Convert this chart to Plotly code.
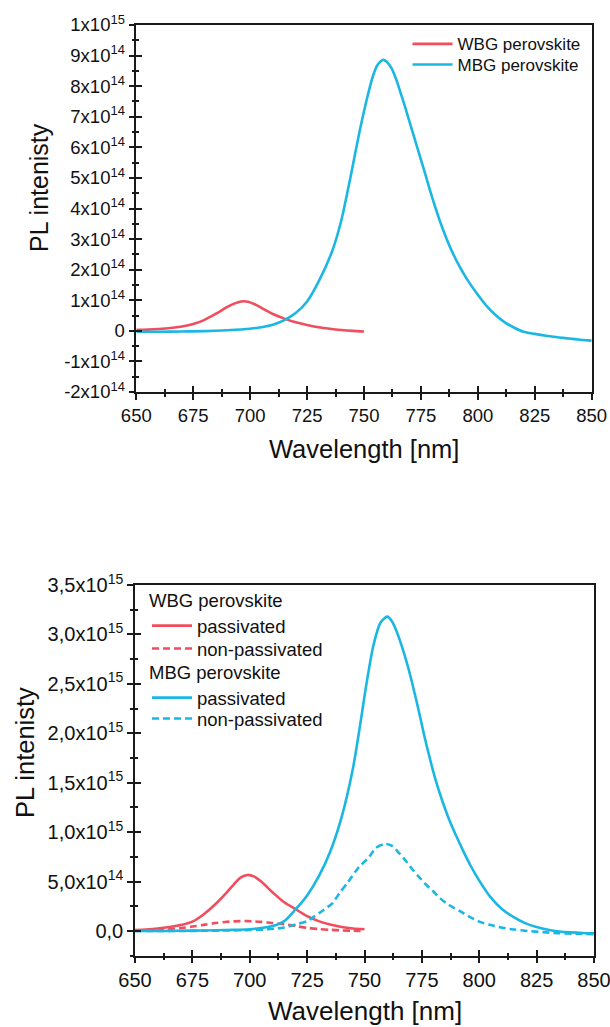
import plotly.graph_objects as go

# ---------------- data (PL intensity in units of 1e14) ----------------
wl_wbg = [650, 655, 660, 665, 670, 675, 680, 685, 690, 693, 696, 699, 702, 705,
          710, 715, 720, 725, 730, 735, 740, 745, 750]
top_wbg = [0.03, 0.04, 0.06, 0.09, 0.14, 0.22, 0.36, 0.56, 0.78, 0.89, 0.96, 0.95,
           0.87, 0.75, 0.55, 0.40, 0.28, 0.19, 0.12, 0.07, 0.03, 0.0, -0.02]

wl_mbg_top = [650, 660, 670, 680, 690, 700, 705, 710, 715, 720, 725, 730, 736, 740,
              744, 748, 751, 754, 756, 758.5, 760, 762, 764, 766, 768, 772, 776, 780,
              784, 788, 792, 796, 800, 804, 808, 812, 816, 820, 825, 830, 835, 840,
              845, 850]
top_mbg = [-0.03, -0.03, -0.02, -0.01, 0.02, 0.07, 0.12, 0.2, 0.35, 0.58, 0.96, 1.6,
           2.6, 3.6, 5.0, 6.5, 7.5, 8.35, 8.7, 8.86, 8.8, 8.6, 8.25, 7.8, 7.33, 6.34,
           5.35, 4.35, 3.45, 2.7, 2.1, 1.6, 1.18, 0.8, 0.5, 0.27, 0.1, -0.03, -0.1,
           -0.16, -0.21, -0.25, -0.29, -0.32]

bot_wbg_pass = [0.1, 0.15, 0.25, 0.4, 0.6, 0.95, 1.7, 2.7, 3.9, 4.7, 5.4, 5.67, 5.5,
                5.0, 3.9, 2.9, 2.2, 1.5, 1.0, 0.65, 0.4, 0.25, 0.17]
bot_wbg_non = [0.03, 0.07, 0.12, 0.2, 0.3, 0.45, 0.62, 0.8, 0.93, 0.97, 1.0, 1.0,
               0.97, 0.92, 0.8, 0.68, 0.5, 0.32, 0.2, 0.12, 0.06, 0.02, 0.0]

wl_mbg_pass = [650, 660, 670, 680, 690, 700, 705, 710, 715, 720, 725, 730, 735, 740,
               745, 748, 751, 754, 757, 760, 762, 764, 766, 768, 770, 772, 774, 776,
               778, 780, 782, 784, 787, 790, 793, 796, 800, 805, 810, 815, 820, 825,
               830, 835, 840, 845, 850]
bot_mbg_pass = [0.0, 0.0, 0.02, 0.05, 0.1, 0.17, 0.3, 0.5, 1.0, 2.2, 3.6, 5.5, 8.0,
                11.5, 16.5, 20.7, 25.2, 29.0, 31.2, 31.8, 31.3, 30.3, 29.0, 27.5,
                25.8, 23.9, 21.9, 19.8, 17.9, 16.1, 14.5, 13.1, 11.2, 9.6, 8.1, 6.7,
                5.1, 3.4, 2.2, 1.4, 0.8, 0.4, 0.12, -0.05, -0.14, -0.2, -0.23]

wl_mbg_non = [650, 660, 670, 680, 690, 700, 708, 715, 720, 725, 728, 732, 736, 739,
              743, 747, 752, 755, 759, 762, 765, 768, 771, 774, 777, 780, 783, 787,
              792, 796, 800, 805, 809, 815, 821, 828, 835, 842, 850]
bot_mbg_non = [0.0, 0.0, 0.0, 0.02, 0.05, 0.1, 0.17, 0.35, 0.65, 1.0, 1.45, 2.1,
               2.8, 3.8, 5.0, 6.3, 7.5, 8.4, 8.8, 8.6, 7.9, 7.1, 6.2, 5.4, 4.65, 4.0,
               3.3, 2.6, 1.95, 1.4, 0.95, 0.6, 0.37, 0.15, 0.0, -0.12, -0.23, -0.28,
               -0.33]

x_tickvals = [650, 675, 700, 725, 750, 775, 800, 825, 850]
x_ticktext = ["650", "675", "700", "725", "750", "775", "800", "825", "850"]

top_y_tickvals = [-2e14, -1e14, 0, 1e14, 2e14, 3e14, 4e14, 5e14, 6e14, 7e14, 8e14,
                  9e14, 1e15]
top_y_ticktext = ["-2x10<sup>14</sup>", "-1x10<sup>14</sup>", "0",
                  "1x10<sup>14</sup>", "2x10<sup>14</sup>", "3x10<sup>14</sup>",
                  "4x10<sup>14</sup>", "5x10<sup>14</sup>", "6x10<sup>14</sup>",
                  "7x10<sup>14</sup>", "8x10<sup>14</sup>", "9x10<sup>14</sup>",
                  "1x10<sup>15</sup>"]
bot_y_tickvals = [0, 5e14, 1e15, 1.5e15, 2e15, 2.5e15, 3e15, 3.5e15]
bot_y_ticktext = ["0,0", "5,0x10<sup>14</sup>", "1,0x10<sup>15</sup>",
                  "1,5x10<sup>15</sup>", "2,0x10<sup>15</sup>", "2,5x10<sup>15</sup>",
                  "3,0x10<sup>15</sup>", "3,5x10<sup>15</sup>"]

SCALE = 1e14
RED = "#F04E5E"
BLUE = "#1BB7E3"
FONT = "Liberation Sans, Arial, sans-serif"
W, H = 610, 1027


def sc(v):
    return [a * SCALE for a in v]


LINE = dict(width=2.6, shape="spline", smoothing=0.8)

fig = go.Figure()
# top chart
fig.add_trace(go.Scatter(x=wl_wbg, y=sc(top_wbg), mode="lines", name="WBG perovskite",
                         line=dict(color=RED, **LINE),
                         xaxis="x", yaxis="y", legend="legend"))
fig.add_trace(go.Scatter(x=wl_mbg_top, y=sc(top_mbg), mode="lines", name="MBG perovskite",
                         line=dict(color=BLUE, **LINE),
                         xaxis="x", yaxis="y", legend="legend2"))
# bottom chart
fig.add_trace(go.Scatter(x=wl_wbg, y=sc(bot_wbg_pass), mode="lines", name="passivated",
                         line=dict(color=RED, **LINE),
                         xaxis="x2", yaxis="y2", legend="legend3"))
fig.add_trace(go.Scatter(x=wl_wbg, y=sc(bot_wbg_non), mode="lines", name="non-passivated",
                         line=dict(color=RED, dash="7px,4px", **LINE),
                         xaxis="x2", yaxis="y2", legend="legend4"))
fig.add_trace(go.Scatter(x=wl_mbg_pass, y=sc(bot_mbg_pass), mode="lines", name="passivated",
                         line=dict(color=BLUE, **LINE),
                         xaxis="x2", yaxis="y2", legend="legend5"))
fig.add_trace(go.Scatter(x=wl_mbg_non, y=sc(bot_mbg_non), mode="lines", name="non-passivated",
                         line=dict(color=BLUE, dash="7px,4px", **LINE),
                         xaxis="x2", yaxis="y2", legend="legend6"))
# empty traces on overlay axes (for crossing inside ticks)
fig.add_trace(go.Scatter(x=[], y=[], xaxis="x3", yaxis="y3", showlegend=False))
fig.add_trace(go.Scatter(x=[], y=[], xaxis="x4", yaxis="y4", showlegend=False))

AX = "#1a1a1a"
top_xd = [136.3 / W, 591.7 / W]
top_yd = [1 - 392 / H, 1 - 25 / H]
bot_xd = [135 / W, 594 / W]
bot_yd = [1 - 955.7 / H, 1 - 585 / H]


def xax(domain, anchor, fs, main=True, overlay=None):
    d = dict(domain=domain, anchor=anchor, range=[650, 850], tickmode="array",
             tickvals=x_tickvals, showgrid=False, zeroline=False,
             automargin=False, ticklabeloverflow="allow",
             linecolor=AX, linewidth=1.5, tickcolor=AX, tickwidth=1.5)
    if main:
        d.update(showline=True, mirror=True, ticks="outside", ticklen=6,
                 ticktext=x_ticktext, tickfont=dict(family=FONT, size=fs, color="#111"),
                 minor=dict(ticks="outside", ticklen=3, dtick=12.5, tick0=650,
                            tickcolor=AX, tickwidth=1.5, showgrid=False))
    else:
        d.update(showline=False, ticks="inside", ticklen=6, showticklabels=False,
                 overlaying=overlay,
                 minor=dict(ticks="inside", ticklen=3, dtick=12.5, tick0=650,
                            tickcolor=AX, tickwidth=1.5, showgrid=False))
    return d


def yax(domain, anchor, rng, tv, tt, mdt, fs, main=True, overlay=None):
    d = dict(domain=domain, anchor=anchor, range=rng, tickmode="array",
             tickvals=tv, showgrid=False, zeroline=False,
             automargin=False, ticklabeloverflow="allow",
             linecolor=AX, linewidth=1.5, tickcolor=AX, tickwidth=1.5)
    if main:
        d.update(showline=True, mirror=True, ticks="outside", ticklen=6,
                 ticktext=tt, tickfont=dict(family=FONT, size=fs, color="#111"),
                 minor=dict(ticks="outside", ticklen=3, dtick=mdt, tick0=0,
                            tickcolor=AX, tickwidth=1.5, showgrid=False))
    else:
        d.update(showline=False, ticks="inside", ticklen=6, showticklabels=False,
                 overlaying=overlay,
                 minor=dict(ticks="inside", ticklen=3, dtick=mdt, tick0=0,
                            tickcolor=AX, tickwidth=1.5, showgrid=False))
    return d


def leg(x_px, top_px, fs, title=None):
    d = dict(x=x_px / W, y=1 - top_px / H, xanchor="left", yanchor="top",
             bgcolor="rgba(0,0,0,0)", font=dict(family=FONT, size=fs, color="#111"),
             itemwidth=40, tracegroupgap=0)
    if title:
        d["title"] = dict(text=title, font=dict(family=FONT, size=fs, color="#111"))
    return d


fig.update_layout(
    width=W, height=H, margin=dict(l=0, r=0, t=0, b=0, autoexpand=False),
    paper_bgcolor="white", plot_bgcolor="white",
    xaxis=xax(top_xd, "y", 18.5),
    yaxis=yax(top_yd, "x", [-2e14, 1e15], top_y_tickvals, top_y_ticktext, 5e13, 18.5),
    xaxis2=xax(bot_xd, "y2", 20),
    yaxis2=yax(bot_yd, "x2", [-2.5e14, 3.5e15], bot_y_tickvals, bot_y_ticktext, 2.5e14, 20),
    xaxis3=xax(top_xd, "y3", 18.5, main=False, overlay="x"),
    yaxis3=yax(top_yd, "x3", [-2e14, 1e15], top_y_tickvals, top_y_ticktext, 5e13, 18.5,
               main=False, overlay="y"),
    xaxis4=xax(bot_xd, "y4", 20, main=False, overlay="x2"),
    yaxis4=yax(bot_yd, "x4", [-2.5e14, 3.5e15], bot_y_tickvals, bot_y_ticktext, 2.5e14, 20,
               main=False, overlay="y2"),
    legend=leg(407.5, 26.3, 17),
    legend2=leg(407.5, 47, 17),
    legend3=leg(147, 583, 18.5, "WBG perovskite"),
    legend4=leg(147, 630, 18.5),
    legend5=leg(147, 655, 18.5, "MBG perovskite"),
    legend6=leg(147, 700, 18.5),
    showlegend=True,
    annotations=[
        dict(text="Wavelength [nm]", x=364 / W, y=1 - 449 / H, xref="paper", yref="paper",
             showarrow=False, xanchor="center", yanchor="middle",
             font=dict(family=FONT, size=25.5, color="#111")),
        dict(text="PL intenisty", x=39 / W, y=1 - 188 / H, xref="paper", yref="paper",
             showarrow=False, xanchor="center", yanchor="middle", textangle=-90,
             font=dict(family=FONT, size=25, color="#111")),
        dict(text="Wavelength [nm]", x=364.5 / W, y=1 - 1011 / H, xref="paper", yref="paper",
             showarrow=False, xanchor="center", yanchor="middle",
             font=dict(family=FONT, size=26, color="#111")),
        dict(text="PL intenisty", x=25 / W, y=1 - 753 / H, xref="paper", yref="paper",
             showarrow=False, xanchor="center", yanchor="middle", textangle=-90,
             font=dict(family=FONT, size=25.5, color="#111")),
    ],
)

fig.write_html("out.html", config={"displayModeBar": False},
               post_script="document.body.style.margin='0px';")
